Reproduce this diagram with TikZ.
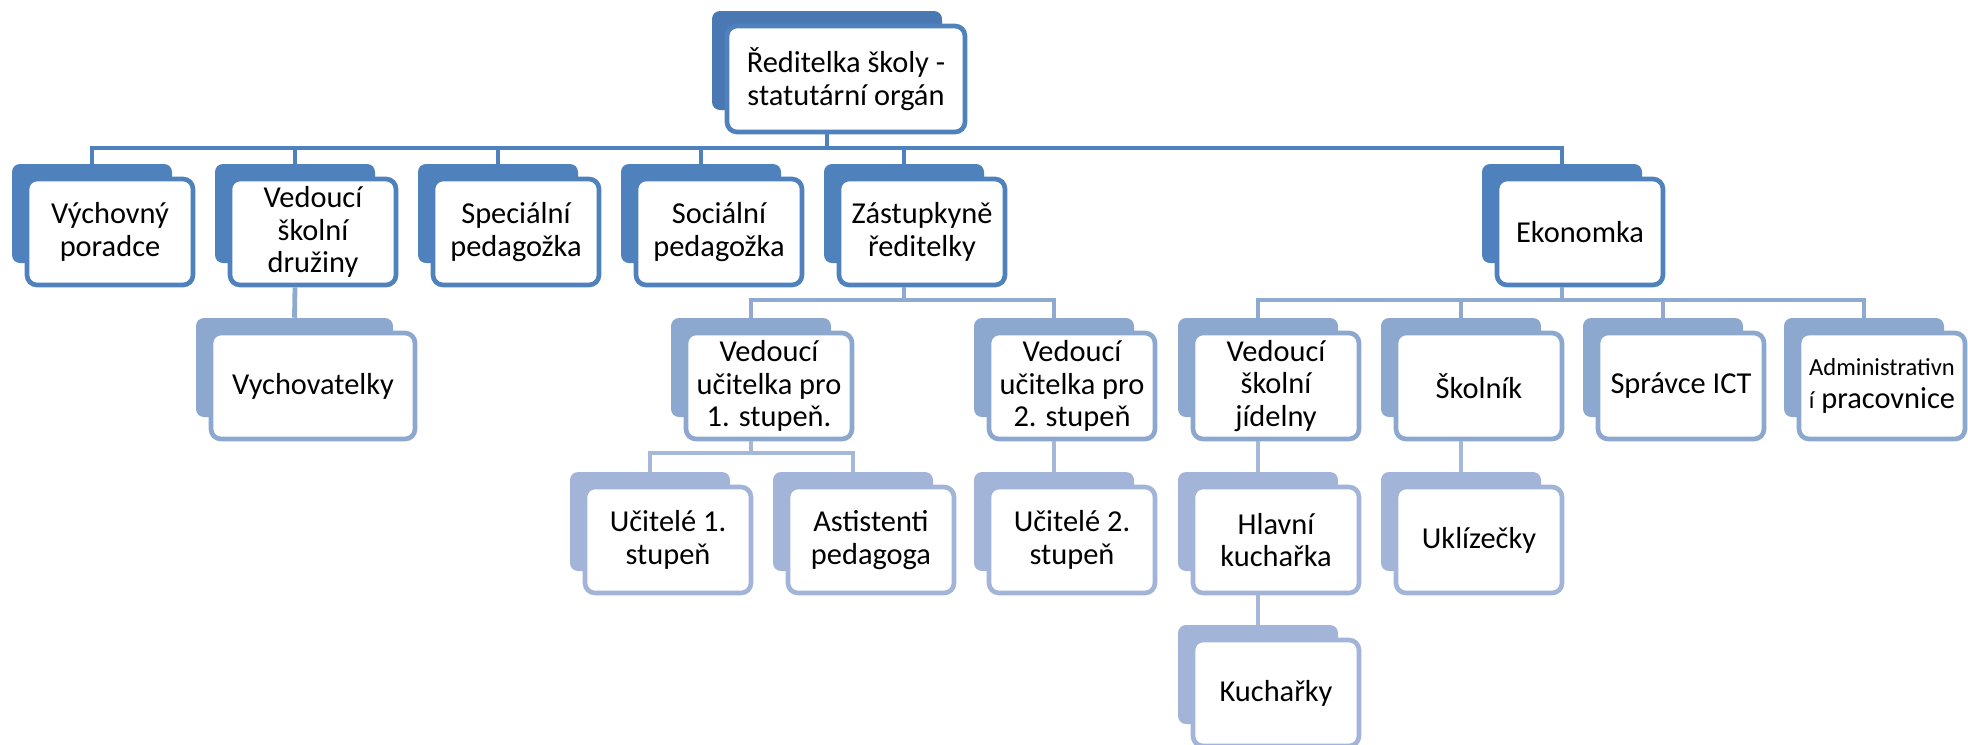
\documentclass[tikz,border=0pt]{standalone}
\usepackage{fontspec}
\setmainfont{Carlito}
\definecolor{tabA}{HTML}{4A78B2}
\definecolor{brdA}{HTML}{4F81BD}
\definecolor{tabB}{HTML}{4F81BD}
\definecolor{brdB}{HTML}{4F81BD}
\definecolor{tabC}{HTML}{8DA8CF}
\definecolor{brdC}{HTML}{8DA8CF}
\definecolor{tabD}{HTML}{A2B5D8}
\definecolor{brdD}{HTML}{A2B5D8}
\definecolor{lnB}{HTML}{4F81BD}
\definecolor{lnC}{HTML}{8FAAD1}
\definecolor{lnD}{HTML}{A5B8D9}
\tikzset{
  tabshape/.style={fill=#1, draw=none, rounded corners=6pt, inner sep=0pt},
  boxshape/.style={draw=#1, fill=white, line width=3.5pt, rounded corners=7.5pt,
    inner sep=2pt, align=center, text=black,
    font=\fontsize{22.8}{24.3}\selectfont},
  conn/.style={draw=#1, line width=3.6pt},
}
\newcommand\orgnode[8]{%
  \node[tabshape=#6, minimum width={#4*0.75pt}, minimum height=74.25pt] (#1-t) at ({#2+#4/2},{#3+49.5}) {};
  \node[boxshape=#7, minimum width={#5*0.75pt}, minimum height=79.5pt] (#1) at ({#2+15+#5/2},{#3+68}) {#8};
}
\begin{document}
\begin{tikzpicture}[x=0.75pt,y=-0.75pt]
\useasboundingbox (0,0) rectangle (1968,744);
% row 0
\orgnode{top}{712}{11}{230}{238}{tabA}{brdA}{Ředitelka školy -\\statutární orgán}
% row 1
\orgnode{vp}{12}{164}{160}{166}{tabB}{brdB}{Výchovný\\poradce}
\orgnode{vsd}{215}{164}{160}{166}{tabB}{brdB}{Vedoucí\\školní\\družiny}
\orgnode{sp}{418}{164}{160}{166}{tabB}{brdB}{Speciální\\pedagožka}
\orgnode{soc}{621}{164}{160}{166}{tabB}{brdB}{Sociální\\pedagožka}
\orgnode{zr}{824}{164}{160}{166}{tabB}{brdB}{Zástupkyně\\ředitelky}
\orgnode{ek}{1482}{164}{160}{166}{tabB}{brdB}{Ekonomka}
% row 2
\orgnode{vych}{196}{318}{197}{204}{tabC}{brdC}{Vychovatelky}
\orgnode{vu1}{671}{318}{160}{166}{tabC}{brdC}{Vedoucí\\učitelka pro\\1. stupeň.}
\orgnode{vu2}{974}{318}{160}{166}{tabC}{brdC}{Vedoucí\\učitelka pro\\2. stupeň}
\orgnode{vsj}{1178}{318}{160}{166}{tabC}{brdC}{Vedoucí\\školní\\jídelny}
\orgnode{skol}{1381}{318}{160}{166}{tabC}{brdC}{Školník}
\orgnode{ict}{1583}{318}{160}{166}{tabC}{brdC}{Správce ICT}
\orgnode{adm}{1784}{318}{160}{166}{tabC}{brdC}{{\fontsize{18.4}{22}\selectfont Administrativn}\\{\fontsize{18.4}{22}\selectfont í} pracovnice}
% row 3
\orgnode{u1}{570}{472}{160}{166}{tabD}{brdD}{Učitelé 1.\\stupeň}
\orgnode{ast}{773}{472}{160}{166}{tabD}{brdD}{Astistenti\\pedagoga}
\orgnode{u2}{974}{472}{160}{166}{tabD}{brdD}{Učitelé 2.\\stupeň}
\orgnode{hk}{1178}{472}{160}{166}{tabD}{brdD}{Hlavní\\kuchařka}
\orgnode{ukl}{1381}{472}{160}{166}{tabD}{brdD}{Uklízečky}
% row 4
\orgnode{kuch}{1178}{625}{160}{166}{tabD}{brdD}{Kuchařky}
% bus levels
\coordinate (bus0) at (0,148);
\coordinate (bus1) at (0,300);
\coordinate (bus2) at (0,453);
% connectors row0 -> row1
\foreach \c in {vp,vsd,sp,soc,zr,ek}
  \draw[conn=lnB] (top-t |- top.south) -- (top-t |- bus0) -| (\c-t.north);
% row1 -> row2
\draw[conn=lnC] (vsd-t |- vsd.south) -- (vych-t.north);
\foreach \c in {vu1,vu2}
  \draw[conn=lnC] (zr-t |- zr.south) -- (zr-t |- bus1) -| (\c-t.north);
\foreach \c in {vsj,skol,ict,adm}
  \draw[conn=lnC] (ek-t |- ek.south) -- (ek-t |- bus1) -| (\c-t.north);
% row2 -> row3
\foreach \c in {u1,ast}
  \draw[conn=lnD] (vu1-t |- vu1.south) -- (vu1-t |- bus2) -| (\c-t.north);
\draw[conn=lnD] (vu2-t |- vu2.south) -- (u2-t.north);
\draw[conn=lnD] (vsj-t |- vsj.south) -- (hk-t.north);
\draw[conn=lnD] (skol-t |- skol.south) -- (ukl-t.north);
% row3 -> row4
\draw[conn=lnD] (hk-t |- hk.south) -- (kuch-t.north);
\end{tikzpicture}
\end{document}
